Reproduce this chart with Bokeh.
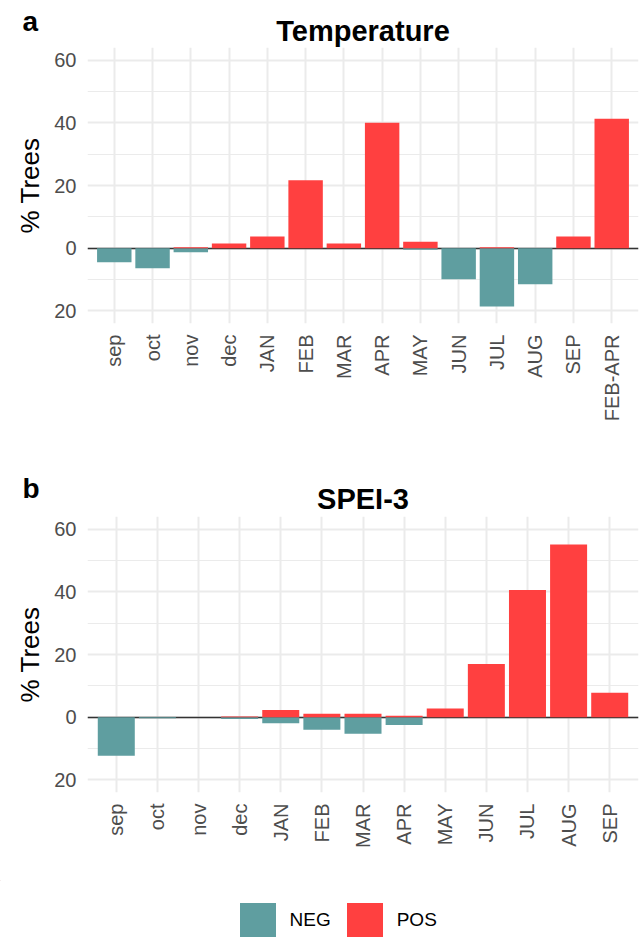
import numpy as np
from bokeh.plotting import figure
from bokeh.models import FactorRange, Range1d, FixedTicker, Legend, LegendItem, ColumnDataSource
from bokeh.layouts import column
from bokeh.embed import file_html
from bokeh.resources import INLINE
from bokeh.core.properties import value

# ---------------- data ----------------
temp_months = ["sep", "oct", "nov", "dec", "JAN", "FEB", "MAR", "APR", "MAY",
               "JUN", "JUL", "AUG", "SEP", "FEB-APR"]
temp_neg = [4.5, 6.4, 1.3, 0.0, 0.0, 0.0, 0.0, 0.0, 0.5, 9.9, 18.6, 11.5, 0.0, 0.0]
temp_pos = [0.0, 0.0, 0.3, 1.5, 3.7, 21.7, 1.5, 40.0, 2.1, 0.0, 0.3, 0.0, 3.7, 41.3]

spei_months = ["sep", "oct", "nov", "dec", "JAN", "FEB", "MAR", "APR", "MAY",
               "JUN", "JUL", "AUG", "SEP"]
spei_neg = [12.3, 0.3, 0.0, 0.6, 1.9, 4.0, 5.3, 2.5, 0.0, 0.0, 0.0, 0.0, 0.0]
spei_pos = [0.0, 0.0, 0.0, 0.2, 2.3, 1.1, 1.1, 0.5, 2.8, 17.0, 40.6, 55.1, 7.8]

y_ticks = [-20, 0, 20, 40, 60]
y_minor = [-10, 10, 30, 50]
y_tick_labels = {-20: "20", 0: "0", 20: "20", 40: "40", 60: "60"}

series_names = ["NEG", "POS"]
series_colors = ["#5F9EA0", "#FF4040"]

FONT = "Liberation Sans"
TICK_GREY = "#4D4D4D"
GRID = "#EBEBEB"
W = 641


def blank_fig(height):
    f = figure(width=W, height=height, x_range=Range1d(0, W), y_range=Range1d(height, 0),
               x_axis_type=None, y_axis_type=None, output_backend="svg",
               toolbar_location=None, min_border=0, title=None, frame_align=False)
    f.outline_line_color = None
    f.xgrid.visible = False
    f.ygrid.visible = False
    f.background_fill_color = "white"
    f.border_fill_color = "white"
    return f


def header(tag, title, height, tag_base, title_base):
    h = blank_fig(height)
    h.text(x=[22], y=[tag_base], text=[tag], text_font=value(FONT), text_font_size="28px",
           text_font_style="bold", text_color="black", text_align="left",
           text_baseline="alphabetic")
    h.text(x=[362.5], y=[title_base], text=[title], text_font=value(FONT),
           text_font_size="29px", text_font_style="bold", text_color="black",
           text_align="center", text_baseline="alphabetic")
    return h


def make_panel(cats, neg, pos, height, bottom_b):
    p = figure(width=W, height=height, x_range=FactorRange(*cats, range_padding=0.2,
                                                            range_padding_units="absolute"),
               y_range=Range1d(-24, 64), output_backend="svg", toolbar_location=None,
               min_border_left=87, min_border_right=3, min_border_top=0,
               min_border_bottom=bottom_b, title=None, frame_align=False)
    p.outline_line_color = None
    p.background_fill_color = "white"
    p.border_fill_color = "white"

    p.yaxis.ticker = FixedTicker(ticks=y_ticks, minor_ticks=y_minor)
    p.yaxis.major_label_overrides = y_tick_labels
    p.yaxis.axis_label = "% Trees"
    p.yaxis.axis_label_text_font = FONT
    p.yaxis.axis_label_text_font_size = "26px"
    p.yaxis.axis_label_text_font_style = "normal"
    p.yaxis.axis_label_text_color = "black"
    p.yaxis.axis_label_standoff = 6
    for ax in (p.xaxis[0], p.yaxis[0]):
        ax.axis_line_color = None
        ax.major_tick_line_color = None
        ax.minor_tick_line_color = None
        ax.major_tick_out = 0
        ax.major_tick_in = 0
        ax.minor_tick_out = 0
        ax.minor_tick_in = 0
        ax.major_label_text_font = FONT
        ax.major_label_text_font_size = "20px"
        ax.major_label_text_color = TICK_GREY
    p.yaxis.major_label_standoff = 11
    p.xaxis.major_label_standoff = 11
    p.xaxis.major_label_orientation = np.pi / 2

    p.xgrid.grid_line_color = GRID
    p.xgrid.grid_line_width = 2
    p.ygrid.grid_line_color = GRID
    p.ygrid.grid_line_width = 2
    p.ygrid.minor_grid_line_color = GRID
    p.ygrid.minor_grid_line_width = 1.2

    p.hspan(y=[0], line_color="#333333", line_width=1.6)

    src = ColumnDataSource(dict(cat=cats, neg=[-v for v in neg], pos=pos, zero=[0] * len(cats)))
    p.vbar(x="cat", top="zero", bottom="neg", width=0.9, source=src,
           fill_color=series_colors[0], line_color=None)
    p.vbar(x="cat", top="pos", bottom="zero", width=0.9, source=src,
           fill_color=series_colors[1], line_color=None)
    return p


def legend_fig(height):
    f = blank_fig(height)
    items = []
    for name, col in zip(series_names, series_colors):
        # off-screen dummy bar that only feeds the legend swatch
        r = f.vbar(x=[-500], top=[-500], bottom=[-501], width=1, fill_color=col,
                   line_color=None)
        items.append(LegendItem(label=name, renderers=[r]))
    lg = Legend(items=items, orientation="horizontal", location=(234.5, -5.5),
                glyph_width=45, glyph_height=45, label_standoff=10, spacing=11,
                padding=0, margin=0, border_line_color=None, background_fill_alpha=0,
                label_text_font=FONT, label_text_font_size="19px", label_text_color="black")
    f.add_layout(lg, "center")
    return f


ha = header("a", "Temperature", 47, 20.5, 30.5)
pa = make_panel(temp_months, temp_neg, temp_pos, height=423, bottom_b=147)
hb = header("b", "SPEI-3", 46, 18.0, 28.7)
pb = make_panel(spei_months, spei_neg, spei_pos, height=364, bottom_b=88)
lf = legend_fig(57)

layout = column(ha, pa, hb, pb, lf, spacing=0)
open("out.html", "w").write(file_html(layout, INLINE))
